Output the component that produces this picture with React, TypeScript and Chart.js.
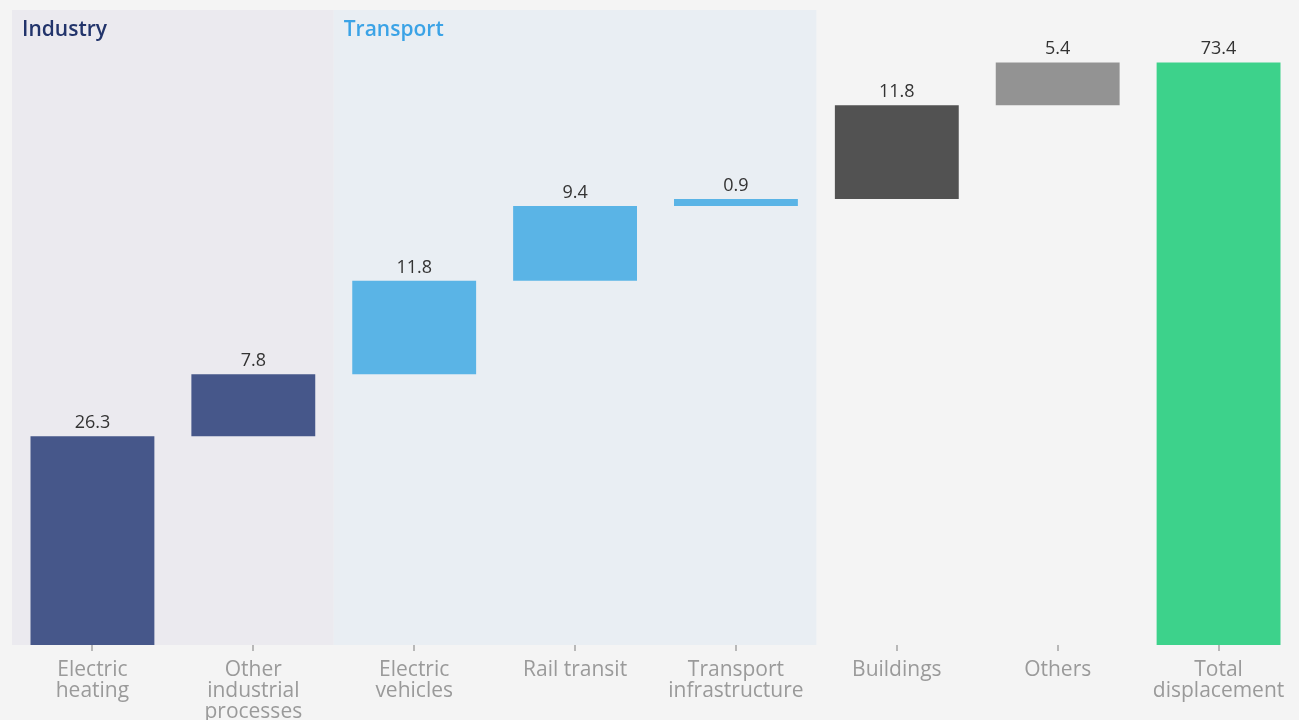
import React, { useEffect, useRef } from "react";
import { Chart, registerables } from "chart.js";

Chart.register(...registerables);

const categories: string[][] = [
  ["Electric", "heating"],
  ["Other", "industrial", "processes"],
  ["Electric", "vehicles"],
  ["Rail transit"],
  ["Transport", "infrastructure"],
  ["Buildings"],
  ["Others"],
  ["Total", "displacement"],
];
const increments: number[] = [26.3, 7.8, 11.8, 9.4, 0.9, 11.8, 5.4];
const totalValue = 73.4;
const barColors: string[] = [
  "#46578a",
  "#46578a",
  "#5ab4e6",
  "#5ab4e6",
  "#5ab4e6",
  "#525252",
  "#939393",
  "#3dd28b",
];
const groupNames: string[] = ["Industry", "Transport"];
const groupStart: number[] = [0, 2];
const groupEnd: number[] = [1, 4];
const groupBandColors: string[] = ["#ebeaef", "#e9eef3"];
const groupTitleColors: string[] = ["#22346b", "#3ba3e6"];

const FONT = "'Open Sans', Roboto, sans-serif";

export default function App() {
  const ref = useRef<HTMLCanvasElement | null>(null);

  useEffect(() => {
    if (!ref.current) return;
    const ranges: [number, number][] = [];
    let acc = 0;
    increments.forEach((v) => {
      ranges.push([acc, +(acc + v).toFixed(2)]);
      acc += v;
    });
    ranges.push([0, totalValue]);
    const labelsValues = [...increments, totalValue];

    const bandPlugin = {
      id: "bands",
      beforeDatasetsDraw(chart: any) {
        const { ctx, chartArea, scales } = chart;
        const x = scales.x;
        const half = (x.getPixelForValue(1) - x.getPixelForValue(0)) / 2;
        ctx.save();
        groupNames.forEach((name, i) => {
          const l = x.getPixelForValue(groupStart[i]) - half;
          const r = x.getPixelForValue(groupEnd[i]) + half;
          ctx.fillStyle = groupBandColors[i];
          ctx.fillRect(l, chartArea.top, r - l, chartArea.bottom - chartArea.top);
          ctx.fillStyle = groupTitleColors[i];
          ctx.font = `600 21px ${FONT}`;
          ctx.textAlign = "left";
          ctx.textBaseline = "alphabetic";
          ctx.fillText(name, l + 10, chartArea.top + 26);
        });
        ctx.restore();
      },
    };

    const valuePlugin = {
      id: "values",
      afterDatasetsDraw(chart: any) {
        const { ctx } = chart;
        const meta = chart.getDatasetMeta(0);
        ctx.save();
        ctx.fillStyle = "#333333";
        ctx.font = `400 18px ${FONT}`;
        ctx.textAlign = "center";
        ctx.textBaseline = "alphabetic";
        meta.data.forEach((bar: any, i: number) => {
          const top = Math.min(bar.y, bar.base);
          ctx.fillText(labelsValues[i].toFixed(1), bar.x, top - 8);
        });
        ctx.restore();
      },
    };

    const chart = new Chart(ref.current, {
      type: "bar",
      data: {
        labels: categories,
        datasets: [
          {
            data: ranges as any,
            backgroundColor: barColors,
            borderWidth: 0,
            barPercentage: 0.77,
            categoryPercentage: 1,
          },
        ],
      },
      options: {
        responsive: false,
        animation: false,
        layout: { padding: { left: 12, right: 0, top: 10, bottom: 0 } },
        plugins: {
          legend: { display: false },
          tooltip: { enabled: false },
        },
        scales: {
          y: { display: false, min: 0, max: 80 },
          x: {
            afterFit: (scale: any) => {
              scale.height = 75;
            },
            border: { display: false },
            grid: {
              display: true,
              offset: false,
              drawOnChartArea: false,
              drawTicks: true,
              tickLength: 6,
              color: "#b8b8b8",
              lineWidth: 2,
            },
            ticks: {
              padding: 9,
              color: "#9a9a9a",
              maxRotation: 0,
              autoSkip: false,
              font: { family: FONT, size: 21, lineHeight: 1.0 },
            },
          },
        },
      },
      plugins: [bandPlugin, valuePlugin],
    });
    return () => chart.destroy();
  }, []);

  return (
    <div
      style={{
        position: "fixed",
        left: 0,
        top: 0,
        width: 1299,
        height: 720,
        background: "#f4f4f4",
      }}
    >
      <canvas ref={ref} width={1299} height={720} style={{ display: "block" }} />
    </div>
  );
}
